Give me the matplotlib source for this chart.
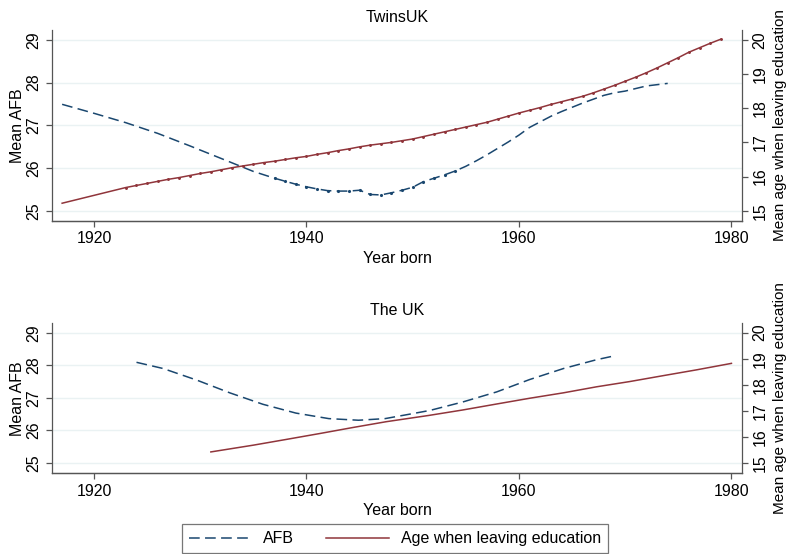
import matplotlib
matplotlib.use("Agg")
import matplotlib.pyplot as plt

plt.rcParams['font.family'] = ['Liberation Sans', 'DejaVu Sans']
plt.rcParams['font.size'] = 11.5

NAVY = '#1a476f'
MAROON = '#90353b'
GRID = '#eaf2f3'
SPINE = '#555555'

# TwinsUK panel
twins_afb_years = [1917, 1920, 1923, 1926, 1929, 1932, 1935, 1936, 1937, 1938,
                   1939, 1940, 1941, 1942, 1943, 1944, 1945, 1946, 1947, 1948,
                   1949, 1950, 1951, 1952, 1953, 1954, 1955, 1956, 1957, 1958,
                   1959, 1960, 1961, 1962, 1963, 1964, 1965, 1966, 1967, 1968,
                   1969, 1970, 1971, 1972, 1973, 1974]
twins_afb = [27.49, 27.28, 27.06, 26.81, 26.52, 26.22, 25.92, 25.84, 25.76, 25.69,
             25.62, 25.56, 25.51, 25.47, 25.46, 25.46, 25.48, 25.38, 25.37, 25.42,
             25.48, 25.55, 25.68, 25.76, 25.84, 25.93, 26.04, 26.17, 26.31, 26.46,
             26.61, 26.77, 26.95, 27.08, 27.21, 27.32, 27.42, 27.52, 27.61, 27.70,
             27.76, 27.80, 27.86, 27.92, 27.95, 27.98]

twins_edu_years = [1917, 1923, 1924, 1925, 1926, 1927, 1928, 1929, 1930, 1931,
                   1932, 1933, 1934, 1935, 1936, 1937, 1938, 1939, 1940, 1941,
                   1942, 1943, 1944, 1945, 1946, 1947, 1948, 1949, 1950, 1951,
                   1952, 1953, 1954, 1955, 1956, 1957, 1958, 1959, 1960, 1961,
                   1962, 1963, 1964, 1965, 1966, 1967, 1968, 1969, 1970, 1971,
                   1972, 1973, 1974, 1975, 1976, 1977, 1978, 1979]
twins_edu = [15.22, 15.68, 15.74, 15.80, 15.86, 15.92, 15.97, 16.03, 16.09, 16.14,
             16.20, 16.26, 16.31, 16.36, 16.41, 16.45, 16.50, 16.55, 16.59, 16.65,
             16.70, 16.76, 16.81, 16.87, 16.92, 16.96, 17.00, 17.05, 17.10, 17.17,
             17.24, 17.31, 17.38, 17.45, 17.52, 17.59, 17.68, 17.77, 17.86, 17.94,
             18.02, 18.11, 18.19, 18.27, 18.35, 18.45, 18.56, 18.67, 18.79, 18.91,
             19.04, 19.18, 19.33, 19.48, 19.64, 19.77, 19.90, 20.02]

# UK panel
uk_afb_years = [1924, 1926.5, 1929.7, 1932.8, 1935.9, 1939, 1942.1, 1944.9, 1947.4,
                1949.6, 1951.6, 1954.7, 1957.9, 1961, 1964.2, 1967.3, 1969]
uk_afb = [28.09, 27.90, 27.54, 27.15, 26.80, 26.53, 26.36, 26.31, 26.36,
          26.49, 26.61, 26.87, 27.18, 27.56, 27.90, 28.17, 28.29]

uk_edu_years = [1931, 1935, 1938.1, 1941.3, 1944.4, 1947.5, 1951.5, 1954.7, 1957.9,
                1961, 1964.2, 1967.3, 1970.4, 1973.6, 1976.7, 1980]
uk_edu = [15.42, 15.68, 15.90, 16.13, 16.36, 16.58, 16.82, 17.03, 17.26,
          17.48, 17.69, 17.92, 18.12, 18.35, 18.57, 18.82]

x_ticks = [1920, 1940, 1960, 1980]
afb_ticks = [25, 26, 27, 28, 29]
edu_ticks = [15, 16, 17, 18, 19, 20]

DASH = (0, (7, 3.5))

fig = plt.figure(figsize=(7.86, 5.54), dpi=100)


def style(ax, ax2, ylim, ylim2, title):
    ax.set_xlim(1916.05, 1981)
    ax.set_ylim(*ylim)
    ax2.set_ylim(*ylim2)
    ax.set_xticks(x_ticks)
    ax.set_yticks(afb_ticks)
    ax2.set_yticks(edu_ticks)
    ax.grid(axis='y', color=GRID, lw=1.0)
    ax.set_axisbelow(True)
    for a in (ax, ax2):
        a.spines['top'].set_visible(False)
        for s in a.spines.values():
            s.set_color(SPINE)
            s.set_linewidth(0.9)
        a.tick_params(direction='out', length=4.5, width=0.9, color=SPINE, pad=3)
    ax.spines['right'].set_visible(False)
    ax2.spines['left'].set_visible(False)
    ax.tick_params(axis='y', labelrotation=90)
    ax2.tick_params(axis='y', labelrotation=90)
    for lab in ax.get_yticklabels() + ax2.get_yticklabels():
        lab.set_va('center')
    ax.set_xlabel('Year born', labelpad=3)
    ax.set_ylabel('Mean AFB', labelpad=1)
    ax2.set_ylabel('Mean age when leaving education', labelpad=4, fontsize=11)
    ax.set_title(title, pad=6, fontsize=11.5)


# top panel
ax1 = fig.add_axes([0.0662, 0.6011, 0.8779, 0.3448])
ax1b = ax1.twinx()
ax1.plot(twins_afb_years, twins_afb, color=NAVY, lw=1.1, ls=DASH,
         marker='.', ms=2.5, markevery=slice(8, 26))
ax1b.plot(twins_edu_years, twins_edu, color=MAROON, lw=1.1,
          marker='.', ms=2.2, markevery=slice(1, None))
style(ax1, ax1b, (24.76, 29.23), (14.7, 20.29), 'TwinsUK')

# bottom panel
ax2 = fig.add_axes([0.0662, 0.1457, 0.8779, 0.2708])
ax2b = ax2.twinx()
l1, = ax2.plot(uk_afb_years, uk_afb, color=NAVY, lw=1.1, ls=DASH)
l2, = ax2b.plot(uk_edu_years, uk_edu, color=MAROON, lw=1.1)
style(ax2, ax2b, (24.68, 29.29), (14.6, 20.36), 'The UK')

leg = fig.legend([l1, l2], ['AFB', 'Age when leaving education'],
                 loc='upper left', bbox_to_anchor=(182 / 786, 1 - 524 / 554),
                 borderaxespad=0, ncol=2, frameon=True, fancybox=False,
                 handlelength=3.9, handletextpad=0.75, columnspacing=2.0,
                 borderpad=0.45, fontsize=11.5)
leg.get_frame().set_edgecolor('#555555')
leg.get_frame().set_linewidth(0.9)

fig.savefig('out.png', dpi=100)
